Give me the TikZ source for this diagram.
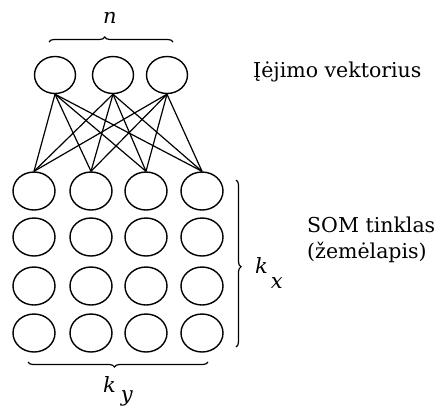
\documentclass[tikz,border=0pt]{standalone}
\usepackage{fontspec}
\setmainfont{DejaVu Serif}
\newfontfamily\labfont{DejaVu Serif}
\usetikzlibrary{shapes.geometric,decorations.pathreplacing}
\begin{document}
\begin{tikzpicture}[x=1pt,y=-1pt,
  neuron/.style={draw,ellipse,line width=1.4pt,inner sep=0pt,minimum width=41pt,minimum height=37pt},
  grid/.style={draw,ellipse,line width=1.4pt,inner sep=0pt,minimum width=42pt,minimum height=38pt},
  link/.style={line width=1.2pt},
  bracebar/.style={line width=1.2pt,decorate,decoration={brace,amplitude=5pt,aspect=#1}},
  lbl/.style={font=\labfont\fontsize{20.5}{25}\selectfont,inner sep=0pt},
  mlbl/.style={font=\labfont\fontsize{21}{25}\selectfont\itshape,inner sep=0pt}]
\useasboundingbox (0,0) rectangle (442,407);
% input layer
\node[neuron] (t1) at (55,75) {};
\node[neuron] (t2) at (113,75) {};
\node[neuron] (t3) at (167,75) {};
% SOM grid
\foreach \r/\y in {1/191,2/237,3/286,4/333}{
  \foreach \c/\x in {1/34,2/91,3/146,4/202}{
    \node[grid] (g\r-\c) at (\x,\y) {};
  }
}
% connections
\foreach \i in {1,2,3}{
  \foreach \c in {1,2,3,4}{
    \draw[link] (t\i.south) -- (g1-\c.north);
  }
}
% braces
\coordinate (nb1) at (49,42);
\coordinate (nb2) at (173,42);
\draw[bracebar=0.45] (nb1) -- (nb2);
\coordinate (kx1) at (236,180);
\coordinate (kx2) at (236,347);
\draw[bracebar=0.52] (kx1) -- (kx2);
\coordinate (ky1) at (208,362);
\coordinate (ky2) at (28,362);
\draw[bracebar=0.52] (ky1) -- (ky2);
% labels
\node[mlbl,anchor=base] (n) at (110,23) {n};
\node[mlbl,anchor=base west] (kx) at (255,273) {k\hspace{3pt}\raisebox{-15pt}{x}};
\node[mlbl,anchor=base west] (ky) at (103,392) {k\hspace{5pt}\raisebox{-9pt}{y}};
\node[lbl,anchor=base west] (in) at (253,77) {Įėjimo vektorius};
\node[lbl,anchor=base west] (som) at (307,232) {SOM tinklas};
\node[lbl,anchor=base west] (map) at (307,258) {(žemėlapis)};
\end{tikzpicture}
\end{document}
